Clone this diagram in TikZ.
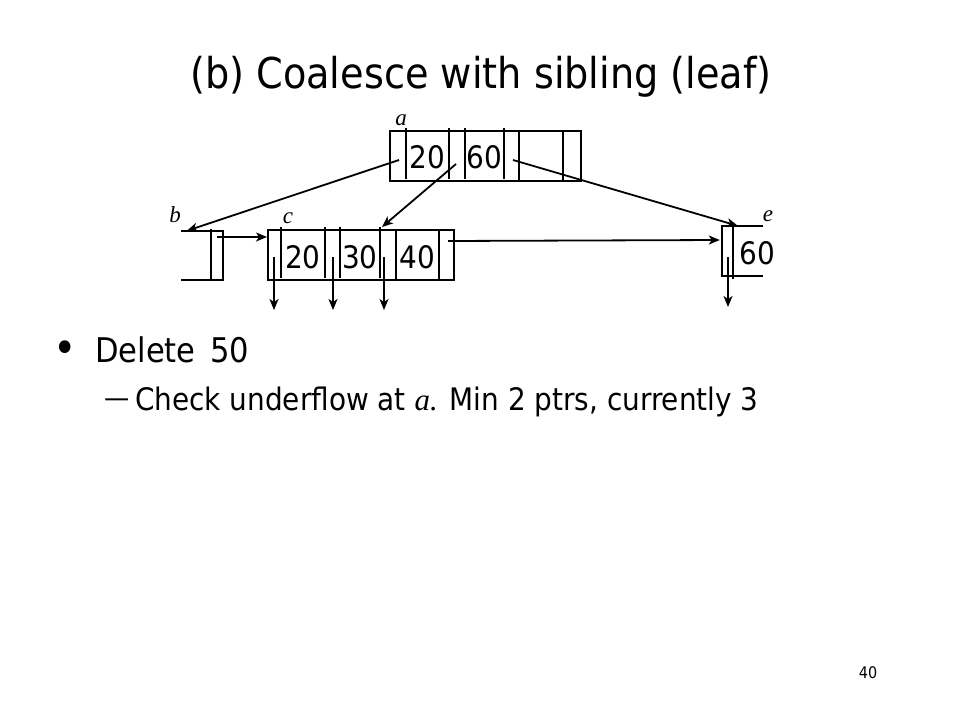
\documentclass[tikz,border=0pt]{standalone}
\usepackage{fontspec}
\setmainfont{DejaVu Sans Condensed}
\newfontfamily\labelfont{Liberation Serif}
\usetikzlibrary{arrows.meta,positioning,calc}

\begin{document}
\begin{tikzpicture}[x=1pt,y=-1pt]
    \tikzset{
        box/.style = {rectangle, draw, line width=2pt, inner sep=0pt},
        line/.style = {draw, line width=1.8pt, -{Stealth[length=11pt,width=9pt,inset=3pt]}},
        sep/.style = {line width=2pt},
        key/.style = {font=\fontsize{31}{31}\selectfont, inner sep=0pt},
        lbl/.style = {font=\labelfont\itshape\fontsize{23}{23}\selectfont, inner sep=0pt},
        txt/.style = {inner sep=0pt, anchor=base west},
    }
    \useasboundingbox (0,0) rectangle (960,720);

    % title and text
    \node[inner sep=0pt, anchor=base, font=\fontsize{42.5}{42.5}\selectfont](title) at (481,88){(b) Coalesce with sibling (leaf)};
    \node[inner sep=0pt, font=\fontsize{44}{44}\selectfont](dot) at (65,352){•};
    \node[txt, font=\fontsize{34}{34}\selectfont](delete) at (95,362){Delete\hspace{5pt} 50};
    \node[txt, font=\fontsize{28}{28}\selectfont](dash) at (104,407){—};
    \node[txt, font=\fontsize{31}{31}\selectfont](check) at (135,410){Check underflow at {\labelfont\itshape a.} Min 2 ptrs, currently 3};
    \node[inner sep=0pt, font=\fontsize{16}{16}\selectfont](page) at (868,673){40};

    % node a
    \node[box, minimum width=191pt, minimum height=50pt](a) at (485.5,156){};
    \foreach \x in {406,449,465,504} \draw[sep] (\x,128) -- (\x,179);
    \foreach \x in {519,563} \draw[sep] (\x,131) -- (\x,181);
    \node[key](a20) at (427.5,157){20};
    \node[key](a60) at (484.5,157){60};
    \node[lbl](la) at (401,120){a};

    % node b
    \node[minimum width=42pt, minimum height=49pt, inner sep=0pt](b) at (202,255.5){};
    \draw[sep] (b.north west) -- (b.north east) -- (b.south east) -- (b.south west);
    \draw[sep] (211,229) -- (211,280);
    \node[lbl](lb) at (175,215){b};

    % node c
    \node[box, minimum width=186pt, minimum height=50pt](c) at (361,255){};
    \foreach \x in {281,325,340,380} \draw[sep] (\x,227) -- (\x,278);
    \foreach \x in {396,439} \draw[sep] (\x,230) -- (\x,280);
    \node[key](c20) at (303,257){20};
    \node[key](c30) at (360,257){30};
    \node[key](c40) at (417.5,257){40};
    \node[lbl](lc) at (288,218){c};

    % node e
    \node[minimum width=41pt, minimum height=50pt, inner sep=0pt](e) at (742.5,251){};
    \draw[sep] (e.north east) -- (e.north west) -- (e.south west) -- (e.south east);
    \draw[sep] (733,226) -- (733,279);
    \node[key](e60) at (757,253){60};
    \node[lbl](le) at (768,216){e};

    % pointers
    \coordinate (a0) at (399,160);
    \coordinate (a1) at (456,164);
    \coordinate (a2) at (513,160);
    \coordinate (b0) at (217,237);
    \coordinate (c3) at (448,241);
    \path [line] (a0) -- ($(b.north west)+(6,0)$);
    \path [line] (a1) -- ($(c.north)+(21,-2)$);
    \path [line] (a2) -- ($(e.north west)+(16,0)$);
    \path [line] (b0) -- ($(c.west)+(0,-18)$);
    \path [line] (c3) -- ($(e.west)+(-2,-11)$);

    % downward pointers
    \foreach \x/\n in {274/c0,333/c1,384/c2} {
        \coordinate (\n) at (\x,257);
        \path [line] (\n) -- ++(0,53);
    }
    \coordinate (e0) at (728,257);
    \path [line] (e0) -- ++(0,50);
\end{tikzpicture}
\end{document}
